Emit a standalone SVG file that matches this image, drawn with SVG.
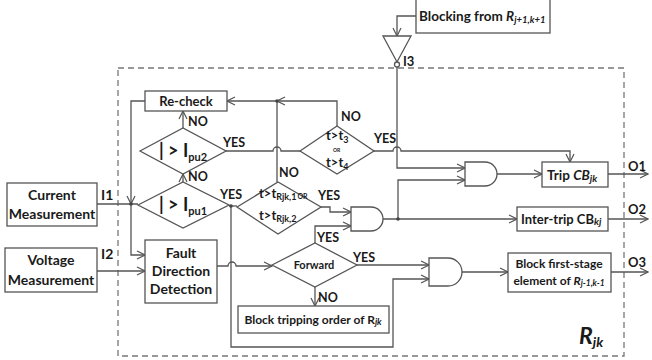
<svg xmlns="http://www.w3.org/2000/svg" width="652" height="360" viewBox="0 0 652 360" font-size="14">
<defs>
<marker id="arr" markerWidth="10" markerHeight="10" refX="9" refY="5" orient="auto" markerUnits="userSpaceOnUse"><path d="M1,1 L9,5 L1,9" fill="none" stroke="#555" stroke-width="1.2"/></marker>
</defs>
<style>
.ln{fill:none;stroke:#555;stroke-width:1.3}
.bx{fill:#fff;stroke:#555;stroke-width:1.3}
.dg{fill:#fff;stroke:#555;stroke-width:1.3}
.t{font-family:Lato,"Open Sans","Liberation Sans",sans-serif;font-weight:bold;fill:#1a1a1a}
.s{font-size:12.5px}
.m{text-anchor:middle}
.dot{fill:#444}
.border{fill:none;stroke:#777;stroke-width:1.3;stroke-dasharray:6 4}
</style>
<rect width="652" height="360" fill="#fff"/>
<rect id="module-border" class="border" x="118" y="68" width="506" height="288"/>

<g id="connectors">
<path class="ln" d="M416,16 H397 V36" marker-end="url(#arr)"/>
<path class="ln" d="M397,67 V168 H465" marker-end="url(#arr)"/>
<path class="ln" d="M97,204 H138"/>
<path class="ln" d="M145,101 H131 V204" marker-end="url(#arr)"/>
<path class="ln" d="M131,204 V255 H145" marker-end="url(#arr)"/>
<path class="ln" d="M97,271 H145" marker-end="url(#arr)"/>
<path class="ln" d="M183,182 V174" marker-end="url(#arr)"/>
<path class="ln" d="M183,128 V111" marker-end="url(#arr)"/>
<path class="ln" d="M226,151 H273 A4,4 0 0 1 281,151 H300"/>
<path class="ln" d="M229,206 H237"/>
<path class="ln" d="M277,182 V101 H227" marker-end="url(#arr)"/>
<path class="ln" d="M337,126 V101 H277" marker-end="url(#arr)"/>
<path class="ln" d="M374,151 H393 A4,4 0 0 1 401,151 H570 V162" marker-end="url(#arr)"/>
<path class="ln" d="M321,207 H330 V212 H351" marker-end="url(#arr)"/>
<path class="ln" d="M315,243 V226 H351" marker-end="url(#arr)"/>
<path class="ln" d="M383,219 H517" marker-end="url(#arr)"/>
<path class="ln" d="M398,219 V180 H465" marker-end="url(#arr)"/>
<path class="ln" d="M497,174 H542" marker-end="url(#arr)"/>
<path class="ln" d="M217,266 H228 A4,4 0 0 1 236,266 H272" marker-end="url(#arr)"/>
<path class="ln" d="M231,206 V347 H393 V279 H429" marker-end="url(#arr)"/>
<path class="ln" d="M357,265 H429" marker-end="url(#arr)"/>
<path class="ln" d="M315,287 V306" marker-end="url(#arr)"/>
<path class="ln" d="M462,272 H508" marker-end="url(#arr)"/>
<path class="ln" d="M608,174 H648" marker-end="url(#arr)"/>
<path class="ln" d="M608,219 H648" marker-end="url(#arr)"/>
<path class="ln" d="M611,272 H648" marker-end="url(#arr)"/>
<circle class="dot" cx="131" cy="204" r="1.8"/>
<circle class="dot" cx="231" cy="206" r="1.8"/>
<circle class="dot" cx="277" cy="101" r="1.8"/>
<circle class="dot" cx="398" cy="219" r="1.8"/>
</g>

<g id="blocking">
<rect class="bx" x="416" y="-1" width="134" height="34"/>
<text class="t" x="419" y="21" font-size="13.5">Blocking from <tspan font-style="italic">R</tspan><tspan font-style="italic" font-size="9.5" dy="2">j+1,k+1</tspan></text>
</g>
<g id="buffer">
<polygon class="dg" points="383,36 411,36 397,62"/>
<circle class="dg" cx="397" cy="64.5" r="2.5"/>
<text class="t" x="403" y="66" font-size="13">I3</text>
</g>
<g id="current">
<rect class="bx" x="7" y="183" width="90" height="43"/>
<text class="t m" x="52" y="200">Current</text>
<text class="t m" x="52" y="219">Measurement</text>
<text class="t" x="101" y="200">I1</text>
</g>
<g id="voltage">
<rect class="bx" x="5" y="248" width="92" height="44"/>
<text class="t m" x="51" y="265">Voltage</text>
<text class="t m" x="51" y="285">Measurement</text>
<text class="t" x="101" y="259">I2</text>
</g>
<g id="recheck">
<rect class="bx" x="145" y="91" width="82" height="20"/>
<text class="t m" x="186" y="106" font-size="13">Re-check</text>
</g>
<g id="ipu2">
<polygon class="dg" points="140,151 183,128 226,151 183,174"/>
<text class="t" x="159" y="157" font-size="18">| &gt; I<tspan font-size="11" dy="4">pu2</tspan></text>
<text class="t s" x="188" y="126">NO</text>
<text class="t s" x="223" y="147">YES</text>
</g>
<g id="ipu1">
<polygon class="dg" points="138,205 183,182 229,205 183,228"/>
<text class="t" x="159" y="211" font-size="18">| &gt; I<tspan font-size="11" dy="4">pu1</tspan></text>
<text class="t s" x="188" y="181">NO</text>
<text class="t s" x="220" y="199">YES</text>
</g>
<g id="t3">
<polygon class="dg" points="300,151 337,126 374,151 337,174"/>
<text class="t" x="326" y="140" font-size="13">t&gt;t<tspan font-size="9" dy="2.5">3</tspan></text>
<text class="t" x="333" y="152" font-size="5">OR</text>
<text class="t" x="326" y="167" font-size="13">t&gt;t<tspan font-size="9" dy="2.5">4</tspan></text>
<text class="t s" x="341" y="121">NO</text>
<text class="t s" x="374" y="143">YES</text>
</g>
<g id="trjk">
<polygon class="dg" points="237,207 278,182 321,207 278,234"/>
<text class="t" x="259" y="198" font-size="13">t&gt;t<tspan font-size="9" dy="2">Rjk,1</tspan><tspan font-size="7" dx="1" dy="-1">OR</tspan></text>
<text class="t" x="259" y="220" font-size="13">t&gt;t<tspan font-size="9" dy="2">Rjk,2</tspan></text>
<text class="t s" x="279" y="177">NO</text>
<text class="t s" x="318" y="200">YES</text>
</g>
<g id="fault">
<rect class="bx" x="145" y="240" width="72" height="63"/>
<text class="t m" x="181" y="258">Fault</text>
<text class="t m" x="181" y="276">Direction</text>
<text class="t m" x="181" y="294">Detection</text>
</g>
<g id="forward">
<polygon class="dg" points="272,265 315,243 357,265 315,287"/>
<text class="t m" x="314" y="269" font-size="11">Forward</text>
<text class="t s" x="317" y="242">YES</text>
<text class="t s" x="353" y="262">YES</text>
<text class="t s" x="318" y="302">NO</text>
</g>
<g id="blocktrip">
<rect class="bx" x="238" y="306" width="151" height="27"/>
<text class="t m" x="313" y="324" font-size="12">Block tripping order of R<tspan font-style="italic" font-size="9" dy="1">jk</tspan></text>
</g>
<g id="and1">
<path class="dg" d="M465,162 H485 A12,12 0 0 1 485,186 H465 Z"/>
</g>
<g id="and2">
<path class="dg" d="M351,207 H371 A12,12 0 0 1 371,231 H351 Z"/>
</g>
<g id="and3">
<path class="dg" d="M429,258 H448 A14,14 0 0 1 448,286 H429 Z"/>
</g>
<g id="trip">
<rect class="bx" x="542" y="162" width="66" height="25"/>
<text class="t" x="547" y="180" font-size="13.5">Trip <tspan font-style="italic">CB</tspan><tspan font-style="italic" font-size="10" dy="2">jk</tspan></text>
<text class="t" x="628" y="171" font-size="13">O1</text>
</g>
<g id="intertrip">
<rect class="bx" x="517" y="207" width="91" height="24"/>
<text class="t" x="521" y="224" font-size="13">Inter-trip CB<tspan font-style="italic" font-size="10" dy="1">kj</tspan></text>
<text class="t" x="628" y="214" font-size="13">O2</text>
</g>
<g id="blockfirst">
<rect class="bx" x="508" y="253" width="103" height="39"/>
<text class="t m" x="559" y="268" font-size="12">Block first-stage</text>
<text class="t m" x="559" y="285" font-size="12">element of <tspan font-style="italic">R</tspan><tspan font-style="italic" font-size="8.5" dy="1">j-1,k-1</tspan></text>
<text class="t" x="628" y="267" font-size="13">O3</text>
</g>
<text class="t" x="579" y="344" font-size="23" font-style="italic">R<tspan font-size="14" dy="3">jk</tspan></text>
</svg>
